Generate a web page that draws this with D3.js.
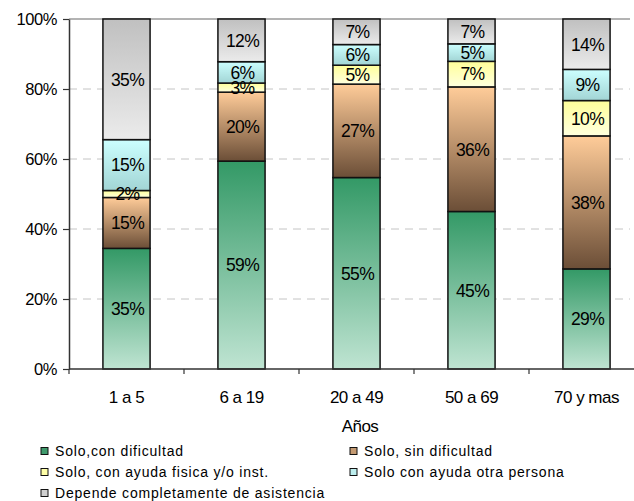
<!DOCTYPE html>
<html>
<head>
<meta charset="utf-8">
<script src="https://cdn.jsdelivr.net/npm/d3@7"></script>
<style>
  html, body { margin: 0; padding: 0; background: #fff; }
  svg { display: block; font-family: "Liberation Sans", Arial, sans-serif; }
</style>
</head>
<body>
<svg id="chart" width="634" height="501"></svg>
<script>
// ---- data ----
const categories = ["1 a 5", "6 a 19", "20 a 49", "50 a 69", "70 y mas"];
const conDificultad     = [34.6, 59.4, 54.7, 45.0, 28.6];
const sinDificultad     = [14.6, 19.7, 26.7, 35.6, 38.0];
const ayudaFisica       = [2.0, 2.6, 5.4, 7.3, 10.1];
const ayudaPersona      = [14.6, 6.1, 5.9, 5.0, 8.9];
const dependeAsistencia = [34.6, 12.2, 7.3, 7.1, 14.4];
const seriesNames = [
  "Solo,con dificultad",
  "Solo, sin dificultad",
  "Solo, con ayuda fisica y/o inst.",
  "Solo con ayuda otra persona",
  "Depende completamente de asistencia"
];
const yTicks = [0, 0.2, 0.4, 0.6, 0.8, 1];
const xTitle = "Años";

(function () {
// ---- styles ----
const gradients = [
  ["#339966", "#bfe4d2"],
  ["#ffcc99", "#6b4e37"],
  ["#ffff99", "#ffffde"],
  ["#ccffff", "#a2d5d5"],
  ["#c0c0c0", "#ebebeb"]
];
const swatchColors = ["#3f9a6c", "#c49a72", "#ffffa8", "#bdeeee", "#cfcfcf"];

const seriesValues = [conDificultad, sinDificultad, ayudaFisica, ayudaPersona, dependeAsistencia];
const keys = seriesNames.map((d, i) => "s" + i);
const table = categories.map((c, j) => {
  const row = { cat: c };
  keys.forEach((k, i) => row[k] = seriesValues[i][j]);
  return row;
});

const svg = d3.select("#chart");
const FONT = '"Liberation Sans", Arial, sans-serif';

const mLeft = 69, mTop = 19, mBottom = 369, plotRight = 630, bandRight = 644;

const x = d3.scaleBand().domain(categories).range([mLeft, bandRight])
  .paddingInner(0.59).paddingOuter(0.295);
const y = d3.scaleLinear().domain([0, 1]).range([mBottom, mTop]);

const stacked = d3.stack().keys(keys).offset(d3.stackOffsetExpand)(table);

// gradients
const defs = svg.append("defs");
gradients.forEach((g, i) => {
  const lgd = defs.append("linearGradient").attr("id", "g" + i)
    .attr("x1", 0).attr("y1", 0).attr("x2", 0).attr("y2", 1);
  lgd.append("stop").attr("offset", "0%").attr("stop-color", g[0]);
  lgd.append("stop").attr("offset", "100%").attr("stop-color", g[1]);
});

// gridlines
svg.append("g").selectAll("line").data(yTicks.filter(t => t > 0 && t < 1)).join("line")
  .attr("x1", mLeft).attr("x2", plotRight)
  .attr("y1", d => y(d)).attr("y2", d => y(d))
  .attr("stroke", "#c4c4c4").attr("stroke-width", 1)
  .attr("stroke-dasharray", "8,6");
// top border
svg.append("line").attr("x1", mLeft).attr("x2", plotRight)
  .attr("y1", y(1)).attr("y2", y(1))
  .attr("stroke", "#9a9a9a").attr("stroke-width", 1.5);

// bars
const layers = svg.append("g").selectAll("g").data(stacked).join("g")
  .attr("fill", (d, i) => `url(#g${i})`);
layers.selectAll("rect").data(d => d).join("rect")
  .attr("x", d => x(d.data.cat))
  .attr("width", x.bandwidth())
  .attr("y", d => y(d[1]))
  .attr("height", d => y(d[0]) - y(d[1]))
  .attr("stroke", "#111").attr("stroke-width", 1.5);

// data labels
const labelG = svg.append("g");
stacked.forEach((layer, i) => {
  layer.forEach((d, j) => {
    labelG.append("text")
      .attr("x", x(d.data.cat) + x.bandwidth() / 2 + 1)
      .attr("y", (y(d[0]) + y(d[1])) / 2)
      .attr("dy", "0.36em")
      .attr("text-anchor", "middle")
      .attr("font-family", FONT)
      .attr("font-size", 17.5)
      .attr("letter-spacing", -0.6)
      .attr("fill", "#000")
      .text(Math.round(seriesValues[i][j]) + "%");
  });
});

// y axis
const yAxis = svg.append("g").attr("transform", `translate(${mLeft},0)`)
  .call(d3.axisLeft(y).tickValues(yTicks).tickFormat(d3.format(".0%"))
    .tickSize(6).tickSizeOuter(0).tickPadding(6));
yAxis.select(".domain").attr("stroke", "#333").attr("stroke-width", 1.5);
yAxis.selectAll(".tick line").attr("stroke", "#333").attr("stroke-width", 1.2);
yAxis.selectAll("text").attr("font-family", FONT).attr("font-size", 16.5)
  .attr("letter-spacing", -0.4).attr("fill", "#000");

// x axis
const xAxis = svg.append("g").attr("transform", `translate(0,${mBottom})`)
  .call(d3.axisBottom(x).tickSize(0).tickSizeOuter(0).tickPadding(22));
xAxis.select(".domain").remove();
xAxis.selectAll("text").attr("font-family", FONT).attr("font-size", 17)
  .attr("letter-spacing", -0.5).attr("fill", "#000");
svg.append("line").attr("x1", mLeft).attr("x2", 634)
  .attr("y1", mBottom).attr("y2", mBottom)
  .attr("stroke", "#333").attr("stroke-width", 1.5);
// boundary ticks
svg.append("g").selectAll("line").data(categories).join("line")
  .attr("x1", d => x(d) - x.step() * x.paddingOuter())
  .attr("x2", d => x(d) - x.step() * x.paddingOuter())
  .attr("y1", mBottom).attr("y2", mBottom + 5)
  .attr("stroke", "#333").attr("stroke-width", 1.2);

// axis title
svg.append("text").attr("x", 360).attr("y", 432)
  .attr("text-anchor", "middle").attr("font-family", FONT)
  .attr("font-size", 17).attr("letter-spacing", -0.5).attr("fill", "#000")
  .text(xTitle);

// legend
const legendPos = [
  [41, 451], [350, 451],
  [41, 472], [350, 472],
  [41, 493]
];
const lg = svg.append("g");
seriesNames.forEach((name, i) => {
  const [lx, ly] = legendPos[i];
  lg.append("rect").attr("x", lx).attr("y", ly - 3.5).attr("width", 7).attr("height", 7)
    .attr("fill", swatchColors[i]).attr("stroke", "#111").attr("stroke-width", 1);
  lg.append("text").attr("x", lx + 14).attr("y", ly + 5)
    .attr("font-family", FONT).attr("font-size", 14)
    .attr("letter-spacing", 0.8).attr("fill", "#000")
    .text(name);
});
})();
</script>
</body>
</html>
